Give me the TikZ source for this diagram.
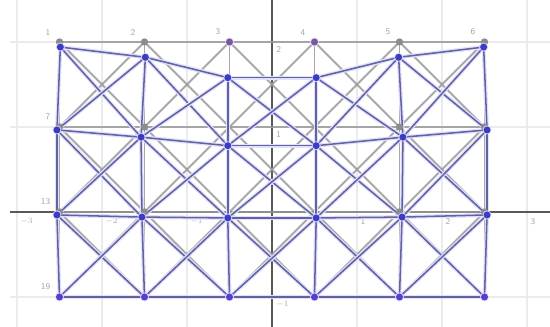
\documentclass[tikz,border=0pt]{standalone}
\usetikzlibrary{positioning}
\definecolor{barblue}{RGB}{85,85,150}
\definecolor{nodeblue}{RGB}{60,60,195}
\definecolor{fixpurple}{RGB}{125,85,160}
\definecolor{basepurple}{RGB}{90,60,205}
\begin{document}
\begin{tikzpicture}[x=2.55cm, y=2.55cm,
    gridline/.style={black!8, line width=1.8pt},
    axis/.style={black!65, line width=1.5pt},
    origbar/.style={black!40, line width=1.7pt, opacity=0.85},
    defbar/.style={barblue, line width=1.3pt, opacity=0.9,
      preaction={draw, blue!12, line width=3.4pt}},
    olddot/.style={circle, fill=black!45, inner sep=0pt, minimum size=2.2mm},
    newdot/.style={circle, fill=nodeblue, inner sep=0pt, minimum size=2.1mm,
      preaction={draw, blue!15, line width=1.5pt}},
    fixdot/.style={newdot, fill=fixpurple},
    basedot/.style={newdot, fill=basepurple},
    lbl/.style={font=\sffamily\fontsize{7.5}{8}\selectfont, text=black!35, inner sep=0pt}
  ]
  \useasboundingbox[fill=white] (-3.2,-1.353) rectangle (3.2706,2.494);

  % background grid and axes
  \foreach \gx in {-3,...,3}
    \draw[gridline] (\gx,-1.353) -- (\gx,2.494);
  \foreach \gy in {-1,1,2}
    \draw[gridline] (-3.08,\gy) -- (3.2706,\gy);
  \draw[axis] (-3.08,0) -- (3.2706,0);
  \draw[axis] (0,-1.353) -- (0,2.494);
  \foreach \gx/\txt in {-3/$-3$,-2/$-2$,-1/$-1$,1/1,2/2,3/3}
    \node[lbl, anchor=north west] (xl\gx) at (\gx+0.04,-0.07) {\txt};
  \foreach \gy/\txt in {2/2,1/1,-1/$-1$}
    \node[lbl, anchor=north west] (yl\gy) at (0.05,\gy-0.05) {\txt};

  % undeformed joints
  \foreach \yy [count=\j] in {2,1,0,-1}
    \foreach \xx [count=\i] in {-2.5,-1.5,...,2.5}
      \coordinate (o-\i-\j) at (\xx,\yy);

  % deformed joints
  \foreach \xx/\yy [count=\i] in {-2.49/1.94,-1.49/1.82,-0.52/1.58,0.52/1.58,1.49/1.82,2.49/1.94}
    \coordinate (d-\i-1) at (\xx,\yy);
  \foreach \xx/\yy [count=\i] in {-2.53/0.965,-1.54/0.88,-0.52/0.78,0.52/0.78,1.54/0.88,2.53/0.965}
    \coordinate (d-\i-2) at (\xx,\yy);
  \foreach \xx/\yy [count=\i] in {-2.53/-0.035,-1.53/-0.06,-0.52/-0.07,0.52/-0.07,1.53/-0.06,2.53/-0.035}
    \coordinate (d-\i-3) at (\xx,\yy);
  \foreach \xx [count=\i] in {-2.5,-1.5,...,2.5}
    \coordinate (d-\i-4) at (\xx,-1);

  % bars: chords, posts and cross braces
  \foreach \s/\st in {o/origbar,d/defbar}{
    \foreach \i in {1,...,5}{
      \pgfmathtruncatemacro{\k}{\i+1}
      \foreach \j in {1,...,4}
        \draw[\st] (\s-\i-\j) -- (\s-\k-\j);
      \foreach \j in {1,2,3}{
        \pgfmathtruncatemacro{\l}{\j+1}
        \draw[\st] (\s-\i-\j) -- (\s-\k-\l);
        \draw[\st] (\s-\k-\j) -- (\s-\i-\l);
      }
    }
    \foreach \i in {1,...,6}
      \foreach \j in {1,2,3}{
        \pgfmathtruncatemacro{\l}{\j+1}
        \draw[\st] (\s-\i-\j) -- (\s-\i-\l);
      }
  }

  % joint markers
  \foreach \i in {1,2,5,6}
    \foreach \j in {1,2,3}
      \node[olddot] (m-\i-\j) at (o-\i-\j) {};
  \foreach \i in {1,...,6}
    \foreach \j in {1,2,3}
      \node[newdot] (n-\i-\j) at (d-\i-\j) {};
  \foreach \i in {1,...,6}
    \node[basedot] (n-\i-4) at (d-\i-4) {};
  \node[fixdot] (f-3) at (o-3-1) {};
  \node[fixdot] (f-4) at (o-4-1) {};

  % joint labels
  \foreach \i in {1,...,6}
    \node[lbl, above left=0.2cm and 0.27cm of o-\i-1, anchor=south east] (t\i) {\i};
  \node[lbl, above left=0.2cm and 0.27cm of o-1-2, anchor=south east] (t7) {7};
  \node[lbl, above left=0.2cm and 0.27cm of o-1-3, anchor=south east] (t13) {13};
  \node[lbl, above left=0.2cm and 0.27cm of o-1-4, anchor=south east] (t19) {19};
\end{tikzpicture}
\end{document}
